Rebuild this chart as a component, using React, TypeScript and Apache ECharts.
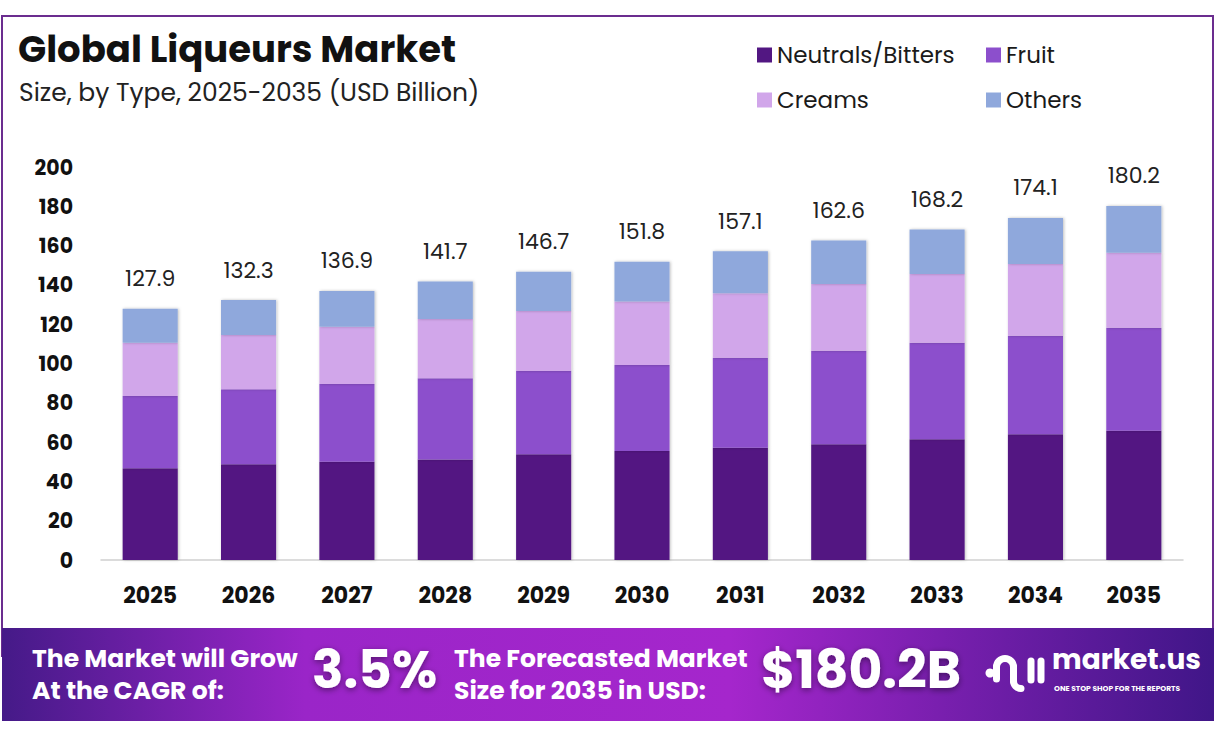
import { useEffect, useRef } from "react";
import * as echarts from "echarts";

const years = ["2025", "2026", "2027", "2028", "2029", "2030", "2031", "2032", "2033", "2034", "2035"];
const neutrals = [46.7, 48.7, 50.0, 51.2, 53.8, 55.5, 57.1, 58.9, 61.4, 64.0, 65.8];
const fruit = [36.8, 38.2, 39.6, 41.3, 42.4, 43.7, 45.8, 47.6, 49.2, 50.1, 52.4];
const creams = [27.1, 27.6, 29.1, 30.1, 30.5, 32.3, 32.8, 34.0, 34.9, 36.5, 38.2];
const others = [17.3, 17.8, 18.2, 19.1, 20.0, 20.3, 21.4, 22.1, 22.7, 23.5, 23.8];
const totals = [127.9, 132.3, 136.9, 141.7, 146.7, 151.8, 157.1, 162.6, 168.2, 174.1, 180.2];

const FONT = "Poppins, Inter, 'Noto Sans', sans-serif";

export default function App() {
  const chartRef = useRef<HTMLDivElement>(null);

  useEffect(() => {
    document.body.style.margin = "0";
    const chart = echarts.init(chartRef.current, null, { renderer: "svg" });

    const barStyle = (color: string) => ({
      color,
      shadowBlur: 3,
      shadowColor: "rgba(0,0,0,0.25)",
      shadowOffsetX: 1,
    });

    const white = "#ffffff";
    const legendText = { fontSize: 23, lineHeight: 24, color: "#1a1a1a", fontFamily: FONT };

    chart.setOption({
      animation: false,
      backgroundColor: "#ffffff",
      textStyle: { fontFamily: FONT },
      grid: { left: 101, right: 35, top: 167, bottom: 178 },
      legend: [
        {
          data: ["Neutrals/Bitters", "Creams"],
          orient: "vertical",
          left: 752,
          top: 38,
          icon: "rect",
          itemWidth: 15,
          itemHeight: 15,
          itemGap: 21,
          textStyle: legendText,
        },
        {
          data: ["Fruit", "Others"],
          orient: "vertical",
          left: 981,
          top: 38,
          icon: "rect",
          itemWidth: 15,
          itemHeight: 15,
          itemGap: 21,
          textStyle: legendText,
        },
      ],
      xAxis: {
        type: "category",
        data: years,
        axisLine: { lineStyle: { color: "#d0d0d0", width: 1.5 } },
        axisTick: { show: false },
        axisLabel: { fontSize: 22, fontWeight: "bold", color: "#111", margin: 24, fontFamily: FONT },
      },
      yAxis: {
        type: "value",
        min: 0,
        max: 200,
        interval: 20,
        splitLine: { show: false },
        axisLine: { show: false },
        axisTick: { show: false },
        axisLabel: { fontSize: 20.5, fontWeight: "bold", color: "#111", margin: 28, fontFamily: FONT },
      },
      series: [
        { name: "Neutrals/Bitters", type: "bar", stack: "t", barWidth: "56%", data: neutrals, itemStyle: barStyle("#521782") },
        { name: "Fruit", type: "bar", stack: "t", data: fruit, itemStyle: barStyle("#8c4fcc") },
        { name: "Creams", type: "bar", stack: "t", data: creams, itemStyle: barStyle("#d1a6ea") },
        {
          name: "Others",
          type: "bar",
          stack: "t",
          data: others,
          itemStyle: barStyle("#8fa8dc"),
          label: {
            show: true,
            position: "top",
            distance: 19,
            fontSize: 22,
            color: "#222",
            fontFamily: FONT,
            formatter: (p: any) => totals[p.dataIndex].toFixed(1),
          },
        },
      ],
      graphic: [
        {
          type: "rect",
          shape: { x: 2, y: 16, width: 1211, height: 640 },
          style: { fill: "none", stroke: "#6b2d8f", lineWidth: 2 },
          z: 0,
        },
        {
          type: "text",
          left: 18,
          top: 30,
          style: { text: "Global Liqueurs Market", font: `bold 37px ${FONT}`, fill: "#111" },
        },
        {
          type: "text",
          left: 19,
          top: 80,
          style: { text: "Size, by Type, 2025-2035 (USD Billion)", font: `25px ${FONT}`, fill: "#222" },
        },
        {
          type: "rect",
          shape: { x: 2, y: 628, width: 1212, height: 93 },
          style: {
            fill: new echarts.graphic.LinearGradient(0, 0, 1, 0, [
              { offset: 0, color: "#451a88" },
              { offset: 0.25, color: "#9a25c8" },
              { offset: 0.6, color: "#a526cc" },
              { offset: 1, color: "#401688" },
            ]),
          },
          z: 10,
        },
        {
          type: "text",
          left: 32,
          top: 642,
          z: 11,
          style: { text: "The Market will Grow\nAt the CAGR of:", font: `bold 25px ${FONT}`, fill: white, lineHeight: 32 },
        },
        {
          type: "text",
          left: 312,
          top: 643,
          z: 11,
          style: {
            text: "3.5%",
            font: `bold 52px ${FONT}`,
            fill: white,
            textShadowColor: "rgba(0,0,0,0.45)",
            textShadowBlur: 6,
            textShadowOffsetY: 2,
          },
        },
        {
          type: "text",
          left: 454,
          top: 642,
          z: 11,
          style: { text: "The Forecasted Market\nSize for 2035 in USD:", font: `bold 25px ${FONT}`, fill: white, lineHeight: 32 },
        },
        {
          type: "text",
          left: 761,
          top: 643,
          z: 11,
          style: {
            text: "$180.2B",
            font: `bold 52px ${FONT}`,
            fill: white,
            textShadowColor: "rgba(0,0,0,0.45)",
            textShadowBlur: 6,
            textShadowOffsetY: 2,
          },
        },
        // market.us logo mark
        { type: "circle", z: 11, shape: { cx: 990, cy: 673, r: 4.5 }, style: { fill: white } },
        {
          type: "arc",
          z: 11,
          shape: { cx: 1005, cy: 667, r: 8.5, startAngle: Math.PI, endAngle: Math.PI * 2, clockwise: true },
          style: { stroke: white, lineWidth: 7, fill: "none", lineCap: "round" },
        },
        { type: "line", z: 11, shape: { x1: 996.5, y1: 667, x2: 996.5, y2: 679 }, style: { stroke: white, lineWidth: 7, lineCap: "round" } },
        { type: "line", z: 11, shape: { x1: 1013.5, y1: 667, x2: 1013.5, y2: 681 }, style: { stroke: white, lineWidth: 7, lineCap: "round" } },
        {
          type: "arc",
          z: 11,
          shape: { cx: 1021, cy: 681, r: 7.5, startAngle: Math.PI, endAngle: Math.PI * 0.5, clockwise: false },
          style: { stroke: white, lineWidth: 7, fill: "none", lineCap: "round" },
        },
        { type: "line", z: 11, shape: { x1: 1031, y1: 661, x2: 1031, y2: 680 }, style: { stroke: white, lineWidth: 7, lineCap: "round" } },
        { type: "line", z: 11, shape: { x1: 1041, y1: 661, x2: 1041, y2: 680 }, style: { stroke: white, lineWidth: 7, lineCap: "round" } },
        {
          type: "text",
          left: 1052,
          top: 645,
          z: 11,
          style: { text: "market.us", font: `bold 28px ${FONT}`, fill: white },
        },
        {
          type: "text",
          left: 1054,
          top: 684,
          z: 11,
          style: { text: "ONE STOP SHOP FOR THE REPORTS", font: `bold 7.5px ${FONT}`, fill: white },
        },
      ],
    });

    return () => {
      chart.dispose();
    };
  }, []);

  return <div ref={chartRef} style={{ width: 1218, height: 738 }}></div>;
}
